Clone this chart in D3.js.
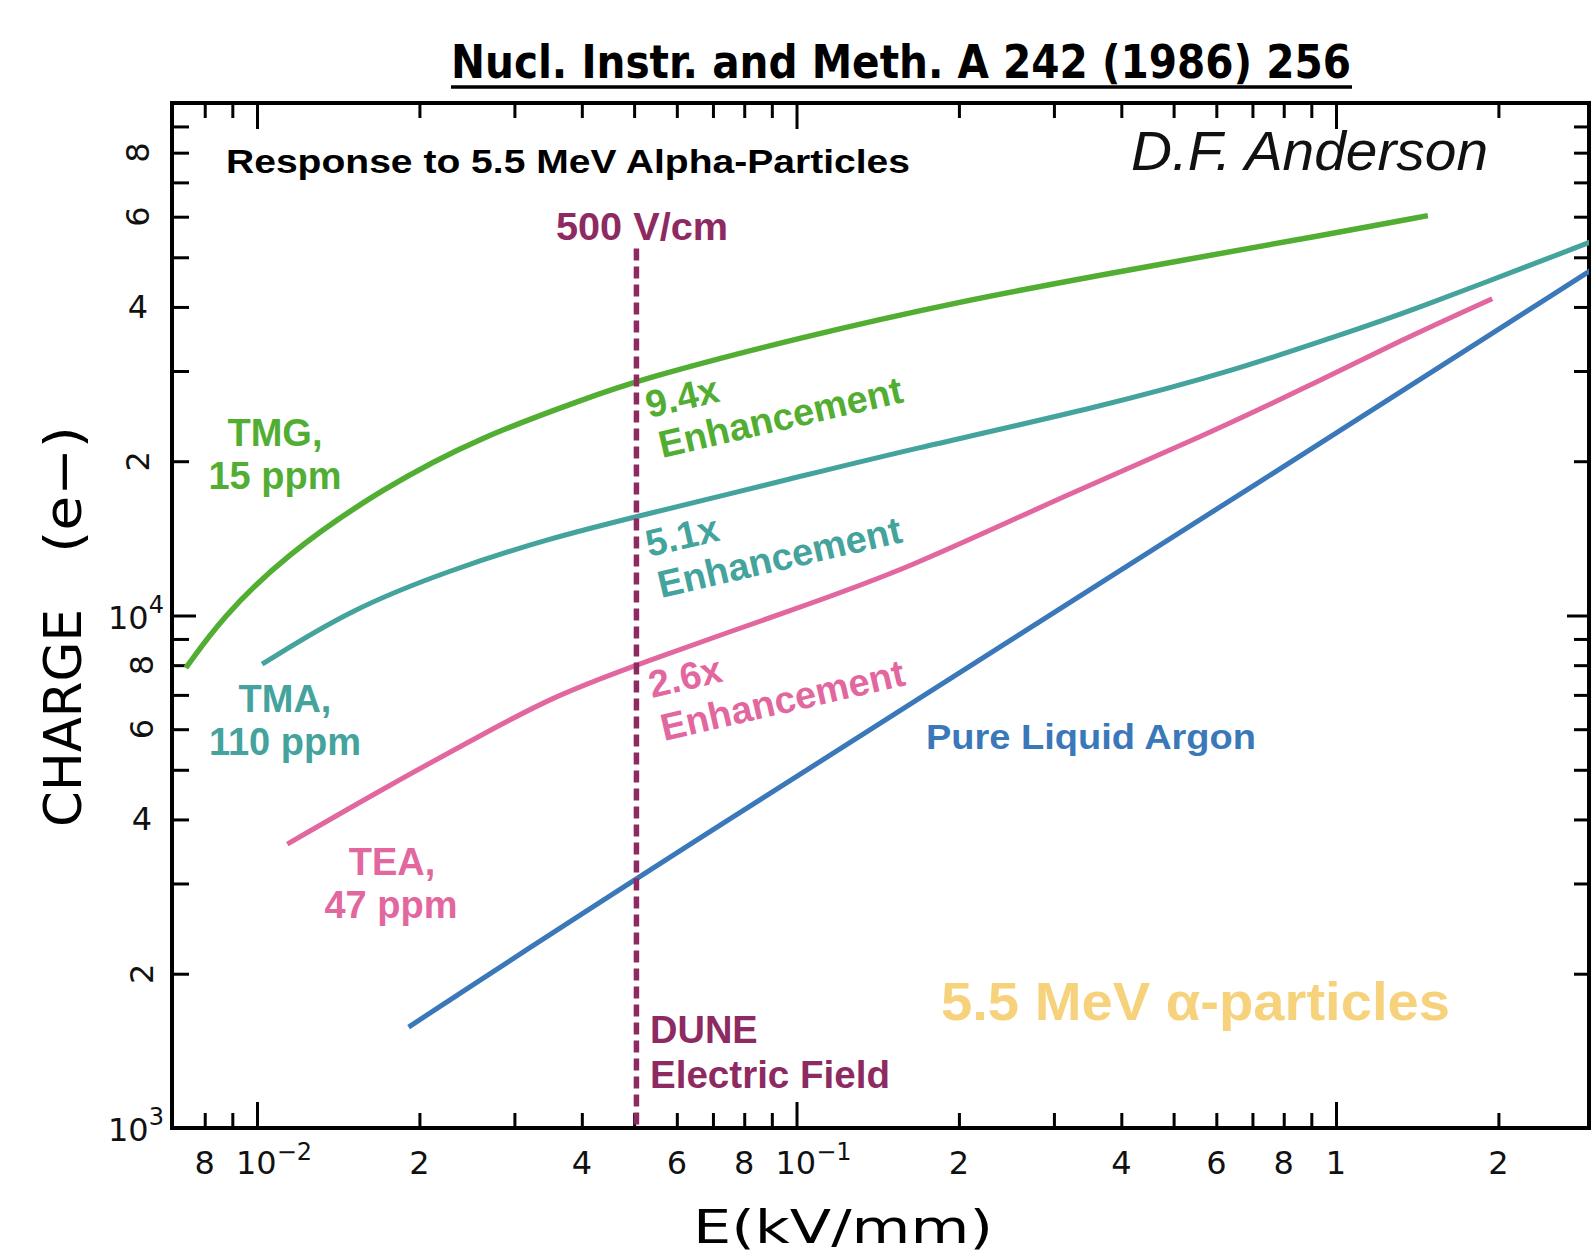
<!DOCTYPE html>
<html lang="en">
<head>
<meta charset="UTF-8">
<title>Response to 5.5 MeV Alpha-Particles</title>
<style>
  body { margin: 0; background: #fff; }
  svg { display: block; }
  .lbl { font-family: "Liberation Sans", Arial, sans-serif; font-weight: bold; }
  .tick-lbl { font-family: "DejaVu Sans", sans-serif; font-size: 32px; fill: #111; }
</style>
</head>
<body>
<div id="chart"></div>
<script src="https://d3js.org/d3.v7.min.js"></script>
<script>
// ---- data (E in kV/mm, charge in electrons) ----
const tmgE = [0.00738, 0.00859, 0.01119, 0.01718, 0.0262, 0.0403, 0.0507, 0.1015, 0.2023, 0.3963, 1.0, 1.48];
const tmgQ = [7900, 9860, 13030, 17800, 22400, 26400, 28800, 34900, 41100, 46900, 55800, 60300];

const tmaE = [0.01022, 0.01489, 0.0228, 0.0349, 0.0505, 0.1014, 0.1575, 0.370, 0.652, 1.0, 1.33, 3.0];
const tmaQ = [8035, 10280, 12270, 14150, 15600, 18660, 20940, 25590, 30130, 35080, 38730, 53830];

const teaE = [0.01138, 0.01738, 0.0266, 0.0354, 0.0507, 0.1015, 0.1575, 0.3204, 0.5675, 0.867, 1.33, 1.948];
const teaQ = [3581, 4634, 5916, 6947, 8035, 10380, 12220, 17300, 22400, 27670, 34580, 41500];

const larE = [0.0191, 0.05, 1.0, 3.0];
const larQ = [1574, 3060, 22650, 47500];

const duneE = 0.0505;        // 500 V/cm
const duneTopQ = 52000;

// axis ticks and labels
const xMinor = [0.008, 0.009, 0.02, 0.03, 0.04, 0.05, 0.06, 0.07, 0.08, 0.09,
                0.2, 0.3, 0.4, 0.5, 0.6, 0.7, 0.8, 0.9, 2];
const xMajor = [0.01, 0.1, 1];
const xLabelVals = [0.008, 0.02, 0.04, 0.06, 0.08, 0.2, 0.4, 0.6, 0.8, 1, 2];
const xLabelText = ["8", "2", "4", "6", "8", "2", "4", "6", "8", "1", "2"];
const xPowVals = [0.01, 0.1];
const xPowExp = ["\u22122", "\u22121"];

const yMinor = [2e3, 3e3, 4e3, 5e3, 6e3, 7e3, 8e3, 9e3, 2e4, 3e4, 4e4, 5e4, 6e4, 7e4, 8e4, 9e4];
const yMajor = [1e4];
const yLabelVals = [2e3, 4e3, 6e3, 8e3, 2e4, 4e4, 6e4, 8e4];
const yLabelText = ["2", "4", "6", "8", "2", "4", "6", "8"];
const yPowVals = [1e3, 1e4];
const yPowExp = ["3", "4"];

const W = 1591, H = 1254;
const m = {left: 172, right: 1589, top: 103, bottom: 1128};

const svg = d3.select("#chart").append("svg")
    .attr("width", W).attr("height", H);
svg.append("rect").attr("width", W).attr("height", H).attr("fill", "#fff");

const x = d3.scaleLog().domain([0.006957, 2.944]).range([m.left, m.right]);
const y = d3.scaleLog().domain([1000, 100000]).range([m.bottom, m.top]);

// title, underlined by hand
svg.append("text")
    .attr("x", 901).attr("y", 78)
    .attr("text-anchor", "middle")
    .attr("textLength", 900).attr("lengthAdjust", "spacingAndGlyphs")
    .style("font-family", "'Liberation Sans Narrow', 'DejaVu Sans Condensed', Arial, sans-serif")
    .style("font-weight", "bold").style("font-size", "46px")
    .text("Nucl. Instr. and Meth. A 242 (1986) 256");
svg.append("line")
    .attr("x1", 451).attr("x2", 1352).attr("y1", 87).attr("y2", 87)
    .attr("stroke", "#000").attr("stroke-width", 3.5);

// clip for curves
svg.append("clipPath").attr("id", "plot")
  .append("rect").attr("x", m.left).attr("y", m.top)
  .attr("width", m.right - m.left).attr("height", m.bottom - m.top);

// ticks
function tickAxis(axis, tr, vals, size) {
    const g = svg.append("g").attr("transform", tr)
        .call(axis.tickValues(vals).tickSize(size).tickFormat(""));
    g.select(".domain").remove();
    g.selectAll("line").attr("stroke", "#000").attr("stroke-width", 3);
}
tickAxis(d3.axisBottom(x), `translate(0,${m.bottom})`, xMinor, -15);
tickAxis(d3.axisBottom(x), `translate(0,${m.bottom})`, xMajor, -26);
tickAxis(d3.axisTop(x), `translate(0,${m.top})`, xMinor, -15);
tickAxis(d3.axisTop(x), `translate(0,${m.top})`, xMajor, -26);
tickAxis(d3.axisLeft(y), `translate(${m.left},0)`, yMinor, -17);
tickAxis(d3.axisLeft(y), `translate(${m.left},0)`, yMajor, -24);
tickAxis(d3.axisRight(y), `translate(${m.right},0)`, yMinor, -15);
tickAxis(d3.axisRight(y), `translate(${m.right},0)`, yMajor, -22);

// frame
svg.append("rect")
    .attr("x", m.left).attr("y", m.top)
    .attr("width", m.right - m.left).attr("height", m.bottom - m.top)
    .attr("fill", "none").attr("stroke", "#000").attr("stroke-width", 4);

// x tick labels
svg.append("g").selectAll("text")
    .data(xLabelVals)
    .join("text")
    .attr("class", "tick-lbl")
    .attr("x", d => x(d)).attr("y", 1174)
    .attr("text-anchor", "middle")
    .text((d, i) => xLabelText[i]);

const xp = svg.append("g").selectAll("text")
    .data(xPowVals)
    .join("text")
    .attr("class", "tick-lbl")
    .attr("x", d => x(d) - 21).attr("y", 1174);
xp.append("tspan").text("10");
xp.append("tspan").attr("dy", -14).style("font-size", "24px").text((d, i) => xPowExp[i]);

// y tick labels (2, 6, 8 are rotated in the original, 4 is upright)
svg.append("g").selectAll("text")
    .data(yLabelVals)
    .join("text")
    .attr("class", "tick-lbl")
    .attr("text-anchor", "middle")
    .attr("dominant-baseline", "central")
    .attr("transform", (d, i) => {
        const cx = d < 1e4 ? 142 : 138;
        const rot = yLabelText[i] === "4" ? 0 : -90;
        return `translate(${cx},${y(d)}) rotate(${rot})`;
    })
    .text((d, i) => yLabelText[i]);

const yp = svg.append("g").selectAll("text")
    .data(yPowVals)
    .join("text")
    .attr("class", "tick-lbl")
    .attr("x", 108).attr("y", d => y(d) + 13);
yp.append("tspan").text("10");
yp.append("tspan").attr("dy", -16).style("font-size", "24px").text((d, i) => yPowExp[i]);

// axis titles
svg.append("text")
    .attr("x", 693).attr("y", 1243)
    .attr("textLength", 300).attr("lengthAdjust", "spacingAndGlyphs")
    .style("font-family", "'DejaVu Sans', sans-serif").style("font-size", "46px")
    .text("E(kV/mm)");

const yTitle = svg.append("g").attr("transform", "translate(81,0) rotate(-90)")
    .style("font-family", "'DejaVu Sans', sans-serif").style("font-size", "52px");
yTitle.append("text").attr("x", -827)
    .attr("textLength", 218).attr("lengthAdjust", "spacingAndGlyphs")
    .text("CHARGE");
yTitle.append("text").attr("x", -553)
    .attr("textLength", 127).attr("lengthAdjust", "spacingAndGlyphs")
    .text("(e\u2212)");

// curves (B-spline smoothing, the original curves are hand-smooth)
const line = d3.line()
    .x(d => x(d[0])).y(d => y(d[1]))
    .curve(d3.curveBasis);

const series = [
    {e: tmgE, q: tmgQ, color: "#52ae32", w: 5.5},
    {e: tmaE, q: tmaQ, color: "#44a39c", w: 5},
    {e: teaE, q: teaQ, color: "#e2679f", w: 5},
    {e: larE, q: larQ, color: "#3a78ba", w: 5}
];
svg.append("g").attr("clip-path", "url(#plot)")
    .selectAll("path")
    .data(series)
    .join("path")
    .attr("d", s => line(s.e.map((v, i) => [v, s.q[i]])))
    .attr("fill", "none")
    .attr("stroke", s => s.color)
    .attr("stroke-width", s => s.w)
    .attr("stroke-linecap", "butt");

// DUNE field line
svg.append("line")
    .attr("x1", x(duneE)).attr("x2", x(duneE))
    .attr("y1", y(duneTopQ)).attr("y2", m.bottom)
    .attr("stroke", "#8e2a62").attr("stroke-width", 5.5)
    .attr("stroke-dasharray", "12,6");

// annotations
function label(txt, px, py, color, size, opts = {}) {
    const t = svg.append("text")
        .attr("class", "lbl")
        .attr("fill", color)
        .style("font-size", size + "px")
        .text(txt);
    if (opts.rotate) t.attr("transform", `translate(${px},${py}) rotate(${opts.rotate})`);
    else t.attr("x", px).attr("y", py);
    if (opts.anchor) t.attr("text-anchor", opts.anchor);
    if (opts.len) t.attr("textLength", opts.len).attr("lengthAdjust", "spacingAndGlyphs");
    return t;
}

label("Response to 5.5 MeV Alpha-Particles", 226, 173, "#000", 33, {len: 684});
svg.append("text")
    .attr("x", 1131).attr("y", 170)
    .style("font-family", "'Liberation Sans', Arial, sans-serif")
    .style("font-style", "italic").style("font-size", "55px")
    .attr("fill", "#111")
    .attr("textLength", 357).attr("lengthAdjust", "spacingAndGlyphs")
    .text("D.F. Anderson");

label("500 V/cm", 556, 240, "#8e2a62", 38, {len: 172});
label("DUNE", 650, 1043, "#8e2a62", 38);
label("Electric Field", 650, 1088, "#8e2a62", 38, {len: 240});

label("TMG,", 275, 446, "#52ae32", 38, {anchor: "middle"});
label("15 ppm", 275, 489, "#52ae32", 38, {anchor: "middle"});
label("TMA,", 285, 712, "#44a39c", 38, {anchor: "middle"});
label("110 ppm", 285, 755, "#44a39c", 38, {anchor: "middle"});
label("TEA,", 392, 875, "#e2679f", 38, {anchor: "middle"});
label("47 ppm", 391, 918, "#e2679f", 38, {anchor: "middle"});

label("9.4x", 649, 418, "#52ae32", 38, {rotate: -13});
label("Enhancement", 662, 458, "#52ae32", 38, {rotate: -13});
label("5.1x", 649, 557, "#44a39c", 38, {rotate: -13});
label("Enhancement", 661, 598, "#44a39c", 38, {rotate: -13});
label("2.6x", 652, 698, "#e2679f", 38, {rotate: -13});
label("Enhancement", 664, 741, "#e2679f", 38, {rotate: -13});

label("Pure Liquid Argon", 926, 749, "#3a78ba", 35, {len: 330});
label("5.5 MeV \u03b1-particles", 941, 1020, "#f6d27c", 54, {len: 509});
</script>
</body>
</html>
